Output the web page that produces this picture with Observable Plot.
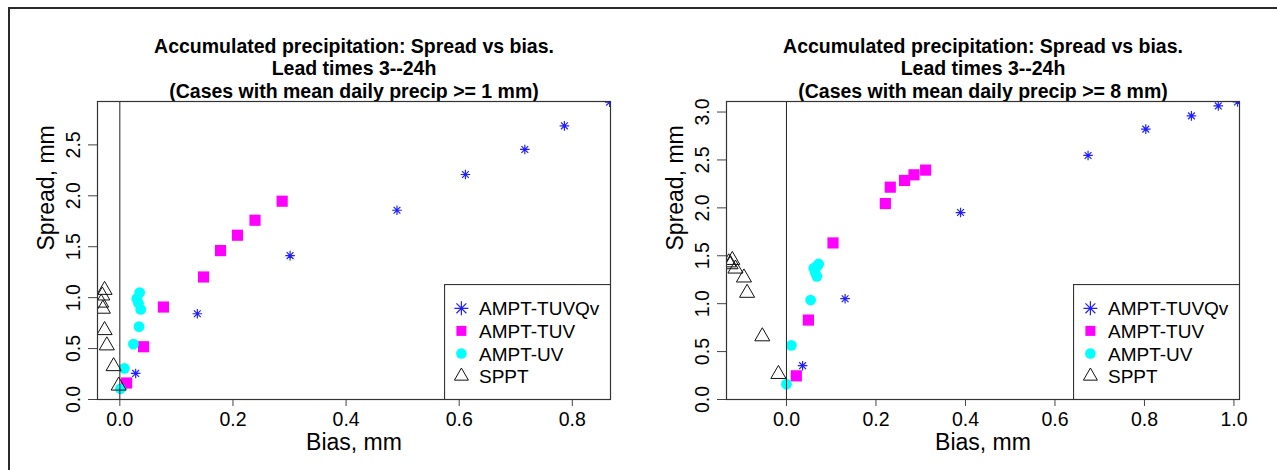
<!DOCTYPE html>
<html>
<head>
<meta charset="utf-8">
<script src="https://cdn.jsdelivr.net/npm/d3@7"></script>
<script src="https://cdn.jsdelivr.net/npm/@observablehq/plot@0.6"></script>
<style>
  body { margin: 0; background: #fff; }
  #page { position: relative; width: 1277px; height: 470px; overflow: hidden; background: #fff;
          font-family: "Liberation Sans", Arial, sans-serif; }
  #border { position: absolute; left: 8px; top: 7px; width: 1300px; height: 500px;
            border-top: 2px solid #2a2a2a; border-left: 2px solid #2a2a2a; }
  .panel { position: absolute; top: 0; }
  .legend { position: absolute; }
</style>
</head>
<body>
<div id="page"><div id="border"></div></div>
<script>
// ---------------- data ----------------
const seriesNames = ["AMPT-TUVQv", "AMPT-TUV", "AMPT-UV", "SPPT"];

// Panel 1: cases with mean daily precip >= 1 mm
const tuvqv1Bias   = [0.028, 0.137, 0.301, 0.490, 0.611, 0.716, 0.786, 0.866];
const tuvqv1Spread = [0.256, 0.842, 1.413, 1.858, 2.209, 2.455, 2.687, 2.920];
const tuv1Bias     = [0.012, 0.042, 0.077, 0.148, 0.178, 0.208, 0.239, 0.287];
const tuv1Spread   = [0.162, 0.518, 0.908, 1.203, 1.462, 1.613, 1.760, 1.947];
const uv1Bias      = [0.001, 0.008, 0.024, 0.034, 0.037, 0.033, 0.030, 0.035];
const uv1Spread    = [0.105, 0.306, 0.544, 0.716, 0.884, 0.945, 0.990, 1.050];
const sppt1Bias    = [-0.002, -0.011, -0.023, -0.027, -0.030, -0.033, -0.031, -0.027];
const sppt1Spread  = [0.135, 0.326, 0.530, 0.680, 0.890, 0.950, 1.020, 1.075];

// Panel 2: cases with mean daily precip >= 8 mm
const tuvqv8Bias   = [0.036, 0.131, 0.389, 0.674, 0.803, 0.905, 0.965, 1.008];
const tuvqv8Spread = [0.353, 1.052, 1.951, 2.547, 2.822, 2.960, 3.064, 3.105];
const tuv8Bias     = [0.022, 0.049, 0.104, 0.221, 0.232, 0.264, 0.285, 0.311];
const tuv8Spread   = [0.247, 0.829, 1.634, 2.045, 2.216, 2.286, 2.345, 2.394];
const uv8Bias      = [0.000, 0.011, 0.054, 0.068, 0.064, 0.061, 0.070, 0.072];
const uv8Spread    = [0.160, 0.565, 1.038, 1.285, 1.330, 1.370, 1.400, 1.414];
const sppt8Bias    = [-0.018, -0.054, -0.088, -0.095, -0.114, -0.125, -0.121, -0.129];
const sppt8Spread  = [0.265, 0.658, 1.112, 1.272, 1.365, 1.410, 1.455, 1.430];

const title1 = "Accumulated precipitation: Spread vs bias.\nLead times 3--24h\n(Cases with mean daily precip >= 1 mm)";
const title2 = "Accumulated precipitation: Spread vs bias.\nLead times 3--24h\n(Cases with mean daily precip >= 8 mm)";
const xLabel = "Bias, mm";
const yLabel = "Spread, mm";

const xTicks1 = [0, 0.2, 0.4, 0.6, 0.8];
const yTicks1 = [0, 0.5, 1.0, 1.5, 2.0, 2.5];
const xTicks2 = [0, 0.2, 0.4, 0.6, 0.8, 1.0];
const yTicks2 = [0, 0.5, 1.0, 1.5, 2.0, 2.5, 3.0];

const xDomain1 = [-0.0395, 0.8675];
const yDomain1 = [0, 2.926];
const xDomain2 = [-0.134, 1.0124];
const yDomain2 = [0, 3.11];

// ---------------- helpers ----------------
const zip = (xs, ys) => xs.map((x, i) => ({bias: x, spread: ys[i]}));

// R-style pch 8 asterisk (plus + cross)
const asterisk8 = {
  draw(ctx, size) {
    const r = Math.sqrt(size / Math.PI);
    const d = r / Math.SQRT2;
    ctx.moveTo(-r, 0); ctx.lineTo(r, 0);
    ctx.moveTo(0, -r); ctx.lineTo(0, r);
    ctx.moveTo(-d, -d); ctx.lineTo(d, d);
    ctx.moveTo(-d, d); ctx.lineTo(d, -d);
  }
};

const FONT = '"Liberation Sans", Arial, sans-serif';
const fmt = d3.format(".1f");

function makePanel(cfg) {
  const {left, width, marginLeft, marginRight, title, xDomain, yDomain, xTicks, yTicks, s} = cfg;
  const height = 470, marginTop = 101, marginBottom = 71;
  const plot = Plot.plot({
    width, height, marginLeft, marginRight, marginTop, marginBottom,
    style: {fontFamily: FONT, fontSize: "19.5px", background: "transparent", color: "#000", overflow: "visible"},
    x: {domain: xDomain},
    y: {domain: yDomain},
    marks: [
      Plot.axisX({ticks: xTicks, tickSize: 7, tickPadding: 6, tickFormat: fmt, label: null, stroke: "#444"}),
      Plot.axisY({ticks: yTicks, tickSize: 9, tickPadding: 9, tickRotate: -90, tickFormat: fmt, label: null, stroke: "#444"}),
      Plot.text([xLabel], {text: d => d, frameAnchor: "bottom", dy: 50, lineAnchor: "bottom", fontSize: 23}),
      Plot.text([yLabel], {text: d => d, frameAnchor: "left", dx: -44, rotate: -90, lineAnchor: "bottom", fontSize: 23}),
      Plot.text([title], {text: d => d, frameAnchor: "top", dy: -4, lineAnchor: "bottom", lineHeight: 1.154,
                          fontSize: 19.5, fontWeight: "bold"}),
      Plot.dot(s[0], {x: "bias", y: "spread", symbol: asterisk8, r: 4.8, stroke: "#2020ff", fill: "none", strokeWidth: 1.2, clip: true}),
      Plot.dot(s[1], {x: "bias", y: "spread", symbol: "square", r: 6.3, fill: "#ff00ff", stroke: "none", clip: true}),
      Plot.dot(s[2], {x: "bias", y: "spread", symbol: "circle", r: 5.4, fill: "#00ffff", stroke: "none", clip: true}),
      Plot.dot(s[3], {x: "bias", y: "spread", symbol: "triangle", r: 5.6, fill: "none", stroke: "#111", strokeWidth: 1, clip: true}),
      Plot.ruleX([0], {stroke: "#222", strokeWidth: 1}),
      Plot.frame({stroke: "#333", strokeWidth: 1.2})
    ]
  });
  const holder = document.createElement("div");
  holder.className = "panel";
  holder.style.left = left + "px";
  holder.appendChild(plot);
  document.getElementById("page").appendChild(holder);

  // legend box anchored to bottom-right corner of the frame
  const W = 166, H = 115;
  const frameRight = left + width - marginRight;
  const frameBottom = height - marginBottom;
  const leg = d3.create("svg")
    .attr("width", W + 1).attr("height", H + 1)
    .attr("class", "legend")
    .style("left", (frameRight - W) + "px")
    .style("top", (frameBottom - H) + "px")
    .style("font-family", FONT);
  leg.append("rect").attr("x", 0.5).attr("y", 0.5).attr("width", W).attr("height", H)
    .attr("fill", "#fff").attr("stroke", "#333").attr("stroke-width", 1.2);
  const rowsY = [24.3, 46.9, 69.5, 92.1];
  const symX = 17.4;
  const legSymbols = [
    {type: asterisk8, size: Math.PI * 49, fill: "none", stroke: "#2020ff", sw: 1.2},
    {type: d3.symbolSquare, size: 100, fill: "#ff00ff", stroke: "none", sw: 0},
    {type: d3.symbolCircle, size: Math.PI * 5.3 * 5.3, fill: "#00ffff", stroke: "none", sw: 0},
    {type: d3.symbolTriangle, size: 85, fill: "none", stroke: "#111", sw: 1}
  ];
  seriesNames.forEach((name, i) => {
    const sy = legSymbols[i];
    leg.append("path")
      .attr("d", d3.symbol(sy.type, sy.size)())
      .attr("transform", `translate(${symX},${rowsY[i]})`)
      .attr("fill", sy.fill).attr("stroke", sy.stroke).attr("stroke-width", sy.sw);
    leg.append("text").attr("x", 35).attr("y", rowsY[i] + 7)
      .attr("font-size", 19).attr("fill", "#000").text(name);
  });
  document.getElementById("page").appendChild(leg.node());
}

makePanel({
  left: 0, width: 640, marginLeft: 97, marginRight: 30,
  title: title1, xDomain: xDomain1, yDomain: yDomain1, xTicks: xTicks1, yTicks: yTicks1,
  s: [zip(tuvqv1Bias, tuvqv1Spread), zip(tuv1Bias, tuv1Spread), zip(uv1Bias, uv1Spread), zip(sppt1Bias, sppt1Spread)]
});
makePanel({
  left: 640, width: 637, marginLeft: 86, marginRight: 38,
  title: title2, xDomain: xDomain2, yDomain: yDomain2, xTicks: xTicks2, yTicks: yTicks2,
  s: [zip(tuvqv8Bias, tuvqv8Spread), zip(tuv8Bias, tuv8Spread), zip(uv8Bias, uv8Spread), zip(sppt8Bias, sppt8Spread)]
});
</script>
</body>
</html>
